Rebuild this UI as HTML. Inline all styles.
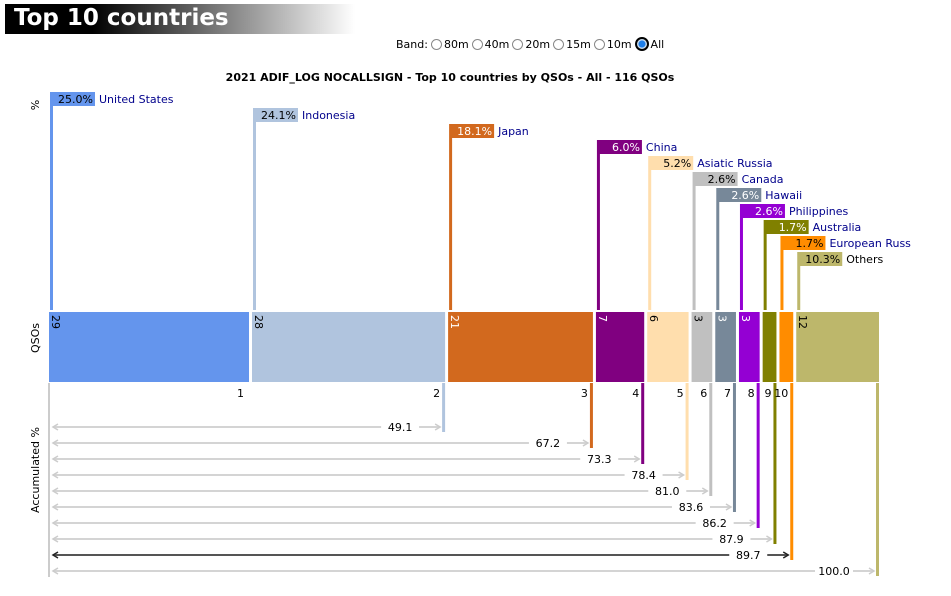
<!DOCTYPE html>
<html><head><meta charset="utf-8"><style>
body{margin:0;background:#fff;width:951px;height:596px;overflow:hidden;font-family:"DejaVu Sans","Liberation Sans",sans-serif}
#hdr{position:absolute;left:5px;top:4px;width:350px;height:30px;background:linear-gradient(90deg,#000 0%,#000 25%,#fff 100%);}
#hdr span{position:absolute;left:9px;top:1px;color:#fff;font:bold 23px "DejaVu Sans",sans-serif;}
#band{position:absolute;left:396px;top:37px;font-size:11px;color:#000;display:flex;align-items:center}
#band .r{display:inline-block;width:11px;height:11px;border:1px solid #888;border-radius:50%;margin:0 2px 0 3px;box-sizing:border-box}
#band .r.on{border:2px solid #000;background:radial-gradient(circle,#1e7ee8 45%,#cde 55%);width:14px;height:14px}
svg{position:absolute;left:0;top:0}
</style></head><body>
<div id="hdr"><span>Top 10 countries</span></div>
<div id="band">Band: <span class="r"></span>80m<span class="r"></span>40m<span class="r"></span>20m<span class="r"></span>15m<span class="r"></span>10m<span class="r on"></span>All</div>
<svg id="chart" width="951" height="596"></svg>
<script>
const countries=["United States","Indonesia","Japan","China","Asiatic Russia","Canada","Hawaii","Philippines","Australia","European Russ","Others"];
const qsos=[29,28,21,7,6,3,3,3,2,2,12];
const pcts=["25.0%","24.1%","18.1%","6.0%","5.2%","2.6%","2.6%","2.6%","1.7%","1.7%","10.3%"];
const accum=[25.0,49.1,67.2,73.3,78.4,81.0,83.6,86.2,87.9,89.7,100.0];
const colors=["#6495ED","#B0C4DE","#D2691E","#800080","#FFDEAD","#C0C0C0","#778899","#9400D3","#808000","#FF8C00","#BDB76B"];
const txtCol=["#000","#000","#fff","#fff","#000","#000","#fff","#fff","#fff","#000","#000"];
const total=qsos.reduce((a,b)=>a+b,0);
const NS="http://www.w3.org/2000/svg";
const svg=document.getElementById('chart');
function el(t,a,p){const e=document.createElementNS(NS,t);for(const k in a)e.setAttribute(k,a[k]);(p||svg).appendChild(e);return e;}
const X0=49,X1=879,GAP=3;
const scale=(X1-X0-GAP*(qsos.length-1))/total;
function xs(i){let x=X0;for(let j=0;j<i;j++)x+=qsos[j]*scale+GAP;return x;}
let t=el('text',{x:450,y:81,'text-anchor':'middle','font-size':11,'font-weight':'bold'});

t.textContent="2021 ADIF_LOG NOCALLSIGN - Top 10 countries by QSOs - All - "+total+" QSOs";
function vlab(txt,x,y,name){const e=el('text',{x:x,y:y,'font-size':11,'text-anchor':'middle',transform:`rotate(-90 ${x} ${y})`});e.textContent=txt;}
vlab('%',39,105,'percent-axis-title');vlab('QSOs',39,338,'qsos-axis-title');vlab('Accumulated %',39,470,'accumulated-axis-title');
const defs=el('defs',{});
function mk(id,c){const m=el('marker',{id:id,markerWidth:8,markerHeight:8,refX:6,refY:4,orient:'auto-start-reverse',markerUnits:'userSpaceOnUse'},defs);el('path',{d:'M1,1 L6,4 L1,7',fill:'none',stroke:c,'stroke-width':1.5},m);}
mk('ag','#ccc');mk('ak','#222');
el('line',{x1:49,y1:383,x2:49,y2:577,stroke:'#ccc','stroke-width':2});
for(let i=0;i<qsos.length;i++){
  const x=xs(i),w=qsos[i]*scale,c=colors[i];
  const ly=92+16*i;
  const g=el('g',{});
  
  el('rect',{x:x+1,y:ly,width:45,height:14,fill:c},g);
  el('rect',{x:x+1,y:ly+14,width:3,height:310-ly-14,fill:c},g);
  let p=el('text',{x:x+44,y:ly+11,'font-size':11,'text-anchor':'end',fill:txtCol[i]},g);p.textContent=pcts[i];
  let n=el('text',{x:x+50,y:ly+11,'font-size':11,fill:i==10?'#000':'#00008B'},g);n.textContent=countries[i];
  const b=el('rect',{x:x,y:312,width:w,height:70,fill:c},g);
  
  if(w>=18){let q=el('text',{x:x+3,y:315,'font-size':11,fill:txtCol[i],transform:`rotate(90 ${x+3} 315)`},g);q.textContent=qsos[i];}
  const rx=x+w-2;
  if(i<10){let ix=el('text',{x:rx-3,y:397,'font-size':11,'text-anchor':'end'},g);ix.textContent=i+1;}
  if(i>=1){
    const ay=427+16*(i-1);
    el('rect',{x:rx-1,y:383,width:3,height:ay+5-383,fill:c},g);
    const dark=(i==9);
    el('line',{x1:53,y1:ay,x2:rx-3,y2:ay,stroke:dark?'#555':'#d4d4d4','stroke-width':2,'marker-start':dark?'url(#ak)':'url(#ag)','marker-end':dark?'url(#ak)':'url(#ag)'},g);
    el('rect',{x:rx-62,y:ay-7,width:38,height:14,fill:'#fff'},g);
    let a=el('text',{x:rx-43,y:ay+4,'font-size':11,'text-anchor':'middle'},g);a.textContent=accum[i].toFixed(1);
  }
}
</script>
</body></html>
